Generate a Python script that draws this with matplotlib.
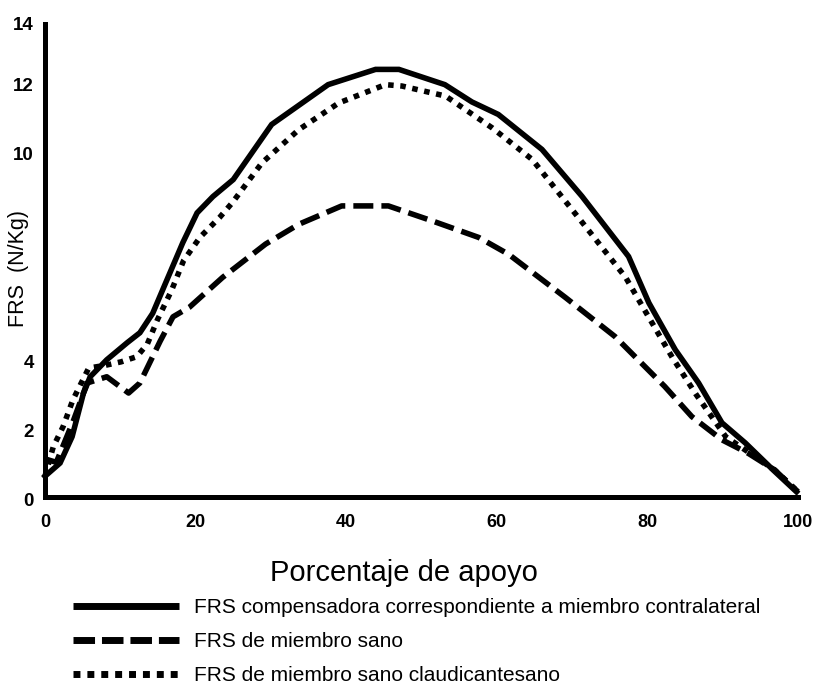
import matplotlib
matplotlib.use("Agg")
import matplotlib.pyplot as plt
from matplotlib.lines import Line2D
from matplotlib.transforms import ScaledTranslation
from matplotlib import font_manager

# ---- data ----
x_comp = [0, 2.0, 3.6, 5.1, 6.0, 8.2, 10.9, 12.6, 14.3, 16.2, 18.3, 20.2, 22.3, 25.0, 30.1,
          37.6, 43.9, 47.0, 53.1, 56.7, 60.2, 66.0, 71.3, 77.5, 80.2, 83.7, 86.8, 89.9, 93.0, 96.7, 99.8]
y_comp = [0.6, 0.98, 1.74, 2.99, 3.47, 3.96, 4.45, 4.74, 5.3, 6.27, 7.34, 8.2, 8.67, 9.16, 10.75,
          11.9, 12.34, 12.34, 11.9, 11.4, 11.04, 10.03, 8.68, 6.94, 5.6, 4.25, 3.29, 2.14, 1.56, 0.78, 0.15]

x_sano = [0, 1.5, 3.8, 5.6, 8.2, 11.1, 12.6, 15.3, 17.0, 19.2, 23.6, 29.3, 33.7, 39.4, 45.6,
          51.4, 57.6, 61.6, 69.1, 75.7, 82.3, 85.9, 89.9, 93.4, 96.9, 100]
y_sano = [1.1, 1.0, 2.22, 3.29, 3.47, 3.0, 3.29, 4.5, 5.2, 5.48, 6.34, 7.3, 7.87, 8.4, 8.4,
          7.97, 7.49, 7.0, 5.76, 4.63, 3.19, 2.32, 1.65, 1.26, 0.78, 0.15]

x_claud = [0, 1.1, 2.4, 3.7, 5.8, 8.0, 10.1, 12.2, 13.6, 14.9, 16.8, 18.4, 20.6, 23.2, 24.9,
           28.8, 33.7, 39.0, 45.2, 47.4, 53.2, 59.4, 64.7, 71.8, 77.1, 80.2, 83.3, 86.4, 90.4, 96.9, 100]
y_claud = [0.6, 1.45, 2.03, 2.8, 3.72, 3.8, 3.9, 4.05, 4.42, 5.1, 5.96, 6.82, 7.5, 8.07, 8.5,
           9.64, 10.6, 11.37, 11.9, 11.86, 11.57, 10.65, 9.74, 7.8, 6.34, 5.18, 4.03, 2.98, 1.74, 0.78, 0.15]

labels = ["FRS compensadora correspondiente a miembro contralateral",
          "FRS de miembro sano",
          "FRS de miembro sano claudicantesano"]
x_ticks = [0, 20, 40, 60, 80, 100]
y_ticks = [0, 2, 4, 10, 12]
y_tick_labels = ["0", "2", "4", "10", "12"]
y_top = 13.65
xlabel = "Porcentaje de apoyo"
ylabel = "FRS  (N/Kg)"

names = {f.name for f in font_manager.fontManager.ttflist}
narrow = ["Liberation Sans Narrow", "DejaVu Sans"] if "Liberation Sans Narrow" in names else ["Liberation Sans", "DejaVu Sans"]
arial = ["Liberation Sans", "DejaVu Sans"]

fig = plt.figure(figsize=(8.2, 6.84), dpi=100)
ax = fig.add_axes([45/820, 1-497/684, (798-45)/820, (497-24)/684])

lw = 4.0
ax.plot(x_comp, y_comp, color="black", lw=lw, solid_joinstyle="miter", clip_on=False)
ax.plot(x_sano, y_sano, color="black", lw=lw, dashes=(3.6, 1.45), dash_capstyle="butt", clip_on=False)
ax.plot(x_claud, y_claud, color="black", lw=lw, dashes=(1.0, 1.2), dash_capstyle="butt", clip_on=False)

ax.set_xlim(0, 100)
ax.set_ylim(0, y_top)
for s in ["top", "right"]:
    ax.spines[s].set_visible(False)
for s in ["left", "bottom"]:
    ax.spines[s].set_linewidth(3.6)
    ax.spines[s].set_color("black")

ax.set_xticks(x_ticks)
ax.set_xticklabels([str(v) for v in x_ticks], fontfamily=arial, fontweight="bold", fontsize=13)
ax.set_yticks(y_ticks + [y_top])
ax.set_yticklabels(y_tick_labels + ["14"], fontfamily=arial, fontweight="bold", fontsize=13.5)
ax.tick_params(axis="x", length=0, pad=12)
ax.tick_params(axis="y", length=0, pad=8)
off = ScaledTranslation(0, -0.03, fig.dpi_scale_trans)
for lab in ax.get_yticklabels()[:-1]:
    lab.set_transform(lab.get_transform() + off)

ax.set_ylabel(ylabel, family=arial, fontsize=15.5)
ax.yaxis.set_label_coords(-0.021, 0.484)
ax.set_xlabel(xlabel, family=narrow, fontsize=21)
ax.xaxis.set_label_coords(0.477, -0.131)

handles = [
    Line2D([], [], color="black", lw=5, solid_capstyle="butt"),
    Line2D([], [], color="black", lw=5, dashes=(3.1, 1.0), dash_capstyle="butt"),
    Line2D([], [], color="black", lw=5, dashes=(1.0, 1.0), dash_capstyle="butt"),
]
fig.legend(handles, labels, loc="upper left", bbox_to_anchor=(73/820, 1-598/684),
           frameon=False, prop={"family": narrow, "size": 15},
           handlelength=5.1, handletextpad=0.7, labelspacing=0.72, borderpad=0, borderaxespad=0)

fig.savefig("out.png", dpi=100)
